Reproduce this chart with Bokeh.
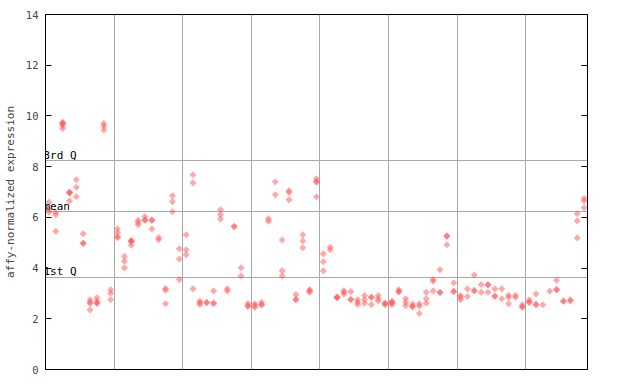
import numpy as np
from bokeh.plotting import figure
from bokeh.models import LinearAxis, FixedTicker, ColumnDataSource, Range1d
from bokeh.core.properties import value
from bokeh.embed import file_html
from bokeh.resources import INLINE

# Expression values per sample, in groups of ten samples (one group per grid column)
group1 = [[6.6, 6.3, 6.2], [6.2, 6.1, 5.45], [9.75, 9.7, 9.7, 9.6, 9.5], [7.0, 6.98, 6.95, 6.65],
          [7.48, 7.19, 6.81], [5.35, 4.98, 4.98], [2.75, 2.65, 2.6, 2.35], [2.83, 2.7, 2.61, 2.61],
          [9.7, 9.6, 9.45], [3.15, 3.01, 2.75]]
group2 = [[5.55, 5.4, 5.25, 5.2], [4.46, 4.27, 4.01], [5.1, 5.05, 5.05, 4.9], [5.88, 5.8, 5.71],
          [6.03, 5.9, 5.89], [5.89, 5.89, 5.54], [5.2, 5.12], [3.19, 3.13, 2.59],
          [6.85, 6.62, 6.22], [4.76, 4.36, 3.55]]
group3 = [[5.31, 4.72, 4.53], [7.68, 7.36, 3.18], [2.69, 2.63, 2.56], [2.64, 2.64], [3.1, 2.63, 2.59],
          [6.3, 6.11, 5.94], [3.18, 3.1], [5.64, 5.64], [4.01, 3.69], [2.6, 2.5, 2.5]]
group4 = [[2.59, 2.52, 2.45], [2.65, 2.55, 2.55], [5.95, 5.85], [7.4, 6.89], [5.11, 3.89, 3.69],
          [7.05, 6.98, 6.69], [2.96, 2.76, 2.76], [5.31, 5.07, 4.8], [3.15, 3.05, 3.1], [7.52, 7.4, 7.4, 6.81]]
group5 = [[4.56, 4.25, 3.89], [4.82, 4.72], [2.87, 2.83, 2.83], [3.11, 3.05, 2.98], [3.07, 2.76, 2.76],
          [2.75, 2.65, 2.56], [2.92, 2.75, 2.61], [2.85, 2.85, 2.56], [2.92, 2.8, 2.7], [2.61, 2.61, 2.55]]
group6 = [[2.7, 2.63, 2.63, 2.55], [3.15, 3.07, 3.07], [2.79, 2.65, 2.52], [2.58, 2.48, 2.48],
          [2.59, 2.5, 2.21], [3.05, 2.79, 2.61], [3.55, 3.48, 3.1], [3.93, 3.04, 3.04],
          [5.26, 5.26, 4.92], [3.42, 3.08, 3.08]]
group7 = [[2.92, 2.85, 2.75], [3.18, 2.88], [3.73, 3.11, 3.11], [3.35, 3.05], [3.34, 3.34, 3.05],
          [3.18, 2.9, 2.88], [3.18, 2.79], [2.93, 2.85, 2.59], [2.93, 2.85], [2.55, 2.46, 2.46]]
group8 = [[2.75, 2.65, 2.65], [2.98, 2.56, 2.56], [2.55], [3.09], [3.52, 3.15, 3.15],
          [2.69, 2.69], [2.75, 2.7], [6.14, 5.86, 5.19], [6.74, 6.65, 6.38]]

quartile_values = [3.63, 6.22, 8.24]
quartile_labels = ["1st Q", "mean", "3rd Q"]
y_ticks = [0, 2, 4, 6, 8, 10, 12, 14]

groups = [group1, group2, group3, group4, group5, group6, group7, group8]
samples = [s for g in groups for s in g]
n = len(samples)
xs, ys = [], []
for i, vals in enumerate(samples):
    for v in vals:
        xs.append(i)
        ys.append(v)

x_start, x_end = -0.5, n - 0.5

p = figure(width=640, height=384, output_backend="svg", toolbar_location=None,
           x_range=Range1d(x_start, x_end), y_range=Range1d(0, 14),
           min_border_left=44, min_border_right=53, min_border_top=14, min_border_bottom=15)
p.outline_line_color = "black"
p.outline_line_width = 1
p.background_fill_color = "white"
p.border_fill_color = "white"

p.xaxis.visible = False
p.xgrid.ticker = FixedTicker(ticks=[k * 10 - 0.5 for k in range(1, len(groups))])
p.xgrid.grid_line_color = "#a8a8a8"
p.ygrid.ticker = FixedTicker(ticks=quartile_values)
p.ygrid.grid_line_color = "#a8a8a8"

ax = p.yaxis[0]
ax.ticker = FixedTicker(ticks=y_ticks)
ax.major_tick_in = 6
ax.major_tick_out = 0
ax.minor_tick_line_color = None
ax.axis_line_color = "black"
ax.major_label_text_font = "DejaVu Sans Mono"
ax.major_label_text_font_size = "10.5px"
ax.major_label_standoff = 7
ax.axis_label = "affy-normalized expression"
ax.axis_label_text_font = "DejaVu Sans Mono"
ax.axis_label_text_font_size = "11px"
ax.axis_label_text_font_style = "normal"
ax.axis_label_standoff = 6

rax = LinearAxis(ticker=FixedTicker(ticks=y_ticks), major_tick_in=6, major_tick_out=0,
                 minor_tick_line_color=None, major_label_text_color=None,
                 major_label_text_font_size="1px", axis_line_color="black")
p.add_layout(rax, "right")

src = ColumnDataSource(dict(x=xs, y=ys))
p.scatter("x", "y", source=src, marker="square", angle=np.pi / 4, size=5,
          fill_color="#ff5555", fill_alpha=0.5, line_color=None)

qsrc = ColumnDataSource(dict(x=[x_start] * len(quartile_values), y=quartile_values, t=quartile_labels))
p.text("x", "y", text="t", source=qsrc, text_font=value("DejaVu Sans Mono"),
       text_font_size="11px", text_baseline="bottom", text_align="left", text_color="black",
       x_offset=-2, y_offset=1)

open("out.html", "w").write(file_html(p, INLINE))
